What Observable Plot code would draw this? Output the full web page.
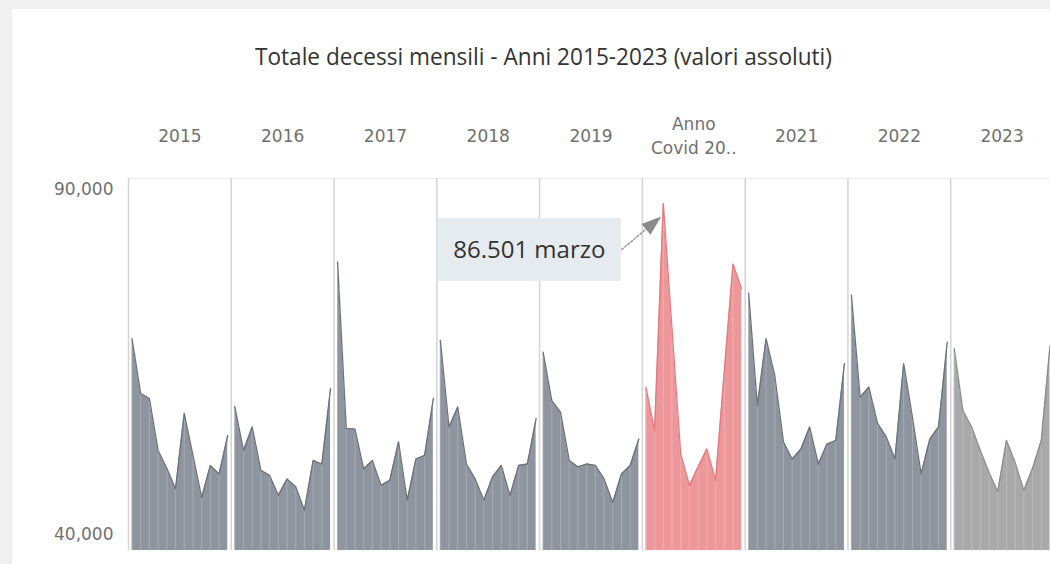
<!DOCTYPE html>
<html>
<head>
<meta charset="utf-8">
<script src="https://cdn.jsdelivr.net/npm/d3@7"></script>
<script src="https://cdn.jsdelivr.net/npm/@observablehq/plot@0.6"></script>
<style>
  html, body { margin: 0; padding: 0; width: 1050px; height: 564px; overflow: hidden; background: #f0f0f0; }
  #card { position: absolute; left: 12px; top: 9px; width: 1100px; height: 600px; background: #fff; }
  #title { position: absolute; left: 255px; top: 45px; font: 23px/23px "Open Sans", sans-serif; color: #333; white-space: nowrap; transform-origin: 0 0; }
  #chart { position: absolute; left: 0; top: 100px; width: 1060px; }
  #chart svg { max-width: none; }
</style>
</head>
<body>
<div id="card"></div>
<div id="title">Totale decessi mensili - Anni 2015-2023 (valori assoluti)</div>
<div id="chart"></div>
<script>
// ---- data ----
const years = [2015, 2016, 2017, 2018, 2019, 2020, 2021, 2022, 2023];
const yearLabels = ["2015", "2016", "2017", "2018", "2019", "Anno\nCovid 20..", "2021", "2022", "2023"];
const months = ["gennaio", "febbraio", "marzo", "aprile", "maggio", "giugno", "luglio", "agosto", "settembre", "ottobre", "novembre", "dicembre"];
const deaths2015 = [67500, 59800, 59100, 51800, 49300, 46400, 57000, 51100, 45200, 49700, 48500, 53900];
const deaths2016 = [58000, 51800, 55100, 49000, 48300, 45500, 47800, 46700, 43400, 50400, 49900, 60500];
const deaths2017 = [78300, 54900, 54800, 49200, 50400, 46900, 47600, 53000, 44800, 50600, 51100, 59100];
const deaths2018 = [67300, 55100, 57900, 49900, 47800, 44800, 48100, 49700, 45500, 49700, 49900, 56300];
const deaths2019 = [65600, 58800, 57200, 50400, 49500, 49900, 49700, 47800, 44500, 48500, 49700, 53400];
const deaths2020 = [60700, 54600, 86501, 68900, 51300, 46900, 49500, 52000, 47600, 62800, 78000, 74500];
const deaths2021 = [73900, 58100, 67500, 62300, 53000, 50600, 52000, 55100, 49900, 52700, 53200, 64000];
const deaths2022 = [73600, 59300, 60700, 55600, 53700, 50600, 64000, 56500, 48500, 53400, 55100, 67000];
const deaths2023 = [66100, 57400, 55100, 51800, 48700, 46000, 53200, 50100, 46200, 49300, 53200, 66500];
const yTicks = [40000, 90000];
const annotation = {year: 2020, month: "marzo"};

// ---- build table ----
const series = [deaths2015, deaths2016, deaths2017, deaths2018, deaths2019, deaths2020, deaths2021, deaths2022, deaths2023];
const groupOf = y => y === 2020 ? "covid" : y === 2023 ? "recent" : "base";
const data = years.flatMap((year, i) => series[i].map((v, m) => ({year, m, month: months[m], v, g: groupOf(year)})));

const style = {
  base:   {fill: "#8f959e", stroke: "#6c717a"},
  covid:  {fill: "#ee979a", stroke: "#e27a7f"},
  recent: {fill: "#a9a9a9", stroke: "#8c8c8c"}
};
const yMin = 37750, yMax = 90000;
const xDomain = [-0.4, 11.4];
const itFmt = d3.formatLocale({decimal: ",", thousands: ".", grouping: [3], currency: ["", "€"]}).format(",");
const enFmt = d3.format(",");
const peak = data.filter(d => d.year === annotation.year && d.month === annotation.month);
const axisFont = "'DejaVu Sans', Verdana, sans-serif";

const chart = Plot.plot({
  width: 1060,
  height: 464,
  marginTop: 78,
  marginBottom: 14,
  marginLeft: 128,
  marginRight: 7,
  style: {background: "transparent", overflow: "visible"},
  fx: {domain: years, padding: 0, round: false, axis: null},
  x: {domain: xDomain, axis: null},
  y: {domain: [yMin, yMax], axis: null},
  marks: [
    Plot.ruleY([yMax], {stroke: "#ececec"}),
    ...Object.entries(style).flatMap(([g, s]) => {
      const d = data.filter(r => r.g === g);
      return [
        Plot.areaY(d, {fx: "year", x: "m", y1: yMin, y2: "v", z: "year", fill: s.fill}),
        Plot.ruleX(d, {fx: "year", x: "m", y1: yMin, y2: "v", stroke: "#ffffff", strokeOpacity: 0.22, strokeWidth: 1}),
        Plot.lineY(d, {fx: "year", x: "m", y: "v", z: "year", stroke: s.stroke, strokeWidth: 1.3})
      ];
    }),
    Plot.ruleX(years, {fx: d => d, x: xDomain[0], stroke: "#d4d4d4", strokeWidth: 1.5}),
    // year header labels
    Plot.text(years, {fx: d => d, text: (d, i) => yearLabels[i], frameAnchor: "top", lineAnchor: "middle", dy: -44,
      fontSize: 17, lineHeight: 1.4, fill: "#707070", fontFamily: axisFont}),
    // y-axis labels (first panel only)
    Plot.text(yTicks.filter(t => t !== yMax), {fx: () => years[0], y: d => d, text: d => enFmt(d),
      frameAnchor: "left", textAnchor: "end", dx: -15, fontSize: 17, fill: "#707070", fontFamily: axisFont}),
    Plot.text(yTicks.filter(t => t === yMax), {fx: () => years[0], y: d => d, text: d => enFmt(d),
      frameAnchor: "left", textAnchor: "end", dx: -15, dy: 11, fontSize: 17, fill: "#707070", fontFamily: axisFont}),
    // annotation
    Plot.rect(peak, {fx: "year", x1: "m", x2: "m", y1: "v", y2: "v",
      insetLeft: -225, insetRight: 42, insetTop: 15, insetBottom: -78, fill: "#e6ebf0"}),
    Plot.text(peak, {fx: "year", x: "m", y: "v", text: d => `${itFmt(d.v)} ${d.month}`,
      dx: -134, dy: 47, fontSize: 24, fill: "#333333", fontFamily: "'Open Sans', sans-serif"}),
    Plot.vector(peak, {fx: "year", x: "m", y: "v", anchor: "end", length: 36, rotate: 50, r: 0,
      stroke: "#9a9a9a", strokeWidth: 1.5, strokeDasharray: "2,2", dx: -14, dy: 23}),
    Plot.vector(peak, {fx: "year", x: "m", y: "v", anchor: "end", length: 20, rotate: 50, r: 7,
      shape: "spike", fill: "#8a8a8a", stroke: "none", dx: -2, dy: 13})
  ]
});
document.getElementById("chart").appendChild(chart);

const t = document.getElementById("title");
const w = t.getBoundingClientRect().width;
t.style.transform = `scaleX(${577 / w})`;
</script>
</body>
</html>
